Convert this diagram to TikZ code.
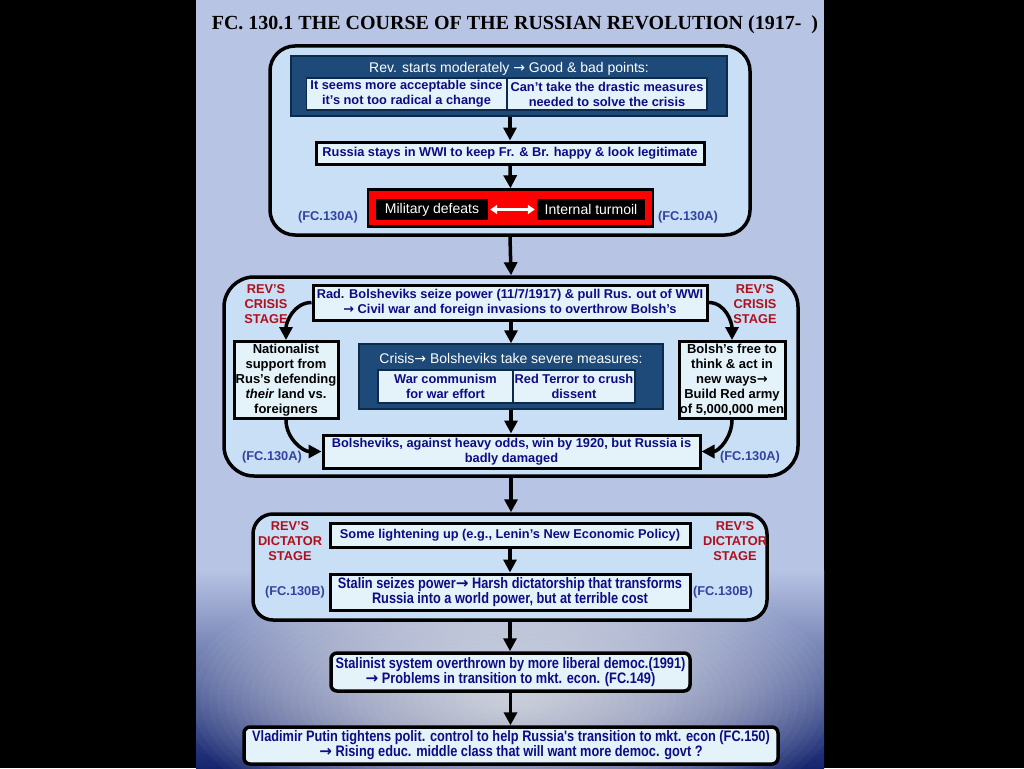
\documentclass[tikz,border=0pt]{standalone}
\usepackage{fontspec}
\setmainfont{Liberation Sans}
\newfontfamily\titlefont{Liberation Serif}
\newfontfamily\narrowfont[FakeStretch=0.84]{Liberation Sans}
\newfontfamily\arrowfont{DejaVu Sans}
\usetikzlibrary{arrows.meta}
\newcommand{\myarr}{{\arrowfont\char"2192}}
\definecolor{lav}{HTML}{B8C4E4}
\definecolor{navybg}{HTML}{14246E}
\definecolor{contc}{HTML}{C8DFF6}
\definecolor{lightc}{HTML}{E4F3F9}
\definecolor{darkc}{HTML}{1D4A78}
\definecolor{darkedge}{HTML}{0E2A4A}
\definecolor{navytxt}{HTML}{0C0C86}
\definecolor{fcc}{HTML}{3442A0}
\definecolor{redtxt}{HTML}{B0101C}
\tikzset{
  cont/.style={draw=black, line width=3.5pt, fill=contc, rounded corners=#1},
  cont/.default=25pt,
  lbox/.style={draw=black, line width=3pt, fill=lightc, inner sep=0pt, text=navytxt,
    font=\bfseries\fontsize{12.8}{15}\selectfont, align=center},
  nbox/.style={lbox, font=\narrowfont\bfseries\fontsize{15.2}{15}\selectfont},
  sidebox/.style={lbox, text=black, font=\bfseries\fontsize{13}{15}\selectfont},
  subbox/.style={draw=darkedge, line width=1.2pt, fill=lightc, inner sep=0pt, text=navytxt,
    font=\bfseries\fontsize{12.8}{15}\selectfont, align=center},
  dbox/.style={draw=darkedge, line width=1.5pt, fill=darkc},
  wtitle/.style={text=white, font=\fontsize{14}{16}\selectfont, inner sep=0pt},
  blk/.style={fill=black, text=white, font=\fontsize{14}{16}\selectfont, inner sep=0pt},
  fclab/.style={text=fcc, font=\bfseries\fontsize{12.8}{15}\selectfont, inner sep=0pt},
  stagelab/.style={text=redtxt, font=\bfseries\fontsize{12.8}{15}\selectfont, align=center, inner sep=0pt},
  arr/.style={line width=3.5pt, -{Triangle[length=13pt,width=13pt]}},
}
\begin{document}
\begin{tikzpicture}[x=1pt,y=-1pt]
\useasboundingbox (0,0) rectangle (1024,768);
% background
\fill[black] (0,0) rectangle (1024,768);
\fill[lav] (196,0) rectangle (824,768);
\shade[top color=lav, bottom color=navybg] (196,570) rectangle (824,768.5);
\begin{scope}
\clip (196,0) rectangle (824,768);
\foreach \i in {40,39,...,1}{
  \fill[white, opacity=0.035] (512,700) ellipse [x radius={8.2*\i}, y radius={3.6*\i}];
}
\end{scope}
% title
\node[inner sep=0pt, font=\titlefont\bfseries\fontsize{20}{22}\selectfont] (title) at (515,25) {FC. 130.1 THE COURSE OF THE RUSSIAN REVOLUTION (1917-\ \ )};

% ---- box 1
\node[cont, minimum width=480pt, minimum height=189pt] (c1) at (510,140.5) {};
\node[dbox, minimum width=436pt, minimum height=60pt] (d1) at (509,86) {};
\node[wtitle] (d1t) at (509,69) {Rev. starts moderately \myarr{} Good \& bad points:};
\node[subbox, minimum width=200pt, minimum height=32pt] (s1a) at (406.5,94) {It seems more acceptable since\\it's not too radical a change};
\node[subbox, minimum width=200pt, minimum height=32pt] (s1b) at (607,94) {Can't take the drastic measures\\needed to solve the crisis};
\node[lbox, minimum width=388pt, minimum height=22pt] (r1) at (510,153) {Russia stays in WWI to keep Fr. \& Br. happy \& look legitimate};
\node[draw=black, line width=2.5pt, fill=red, minimum width=285pt, minimum height=37pt] (red) at (510.5,208) {};
\node[blk, minimum width=112pt, minimum height=21pt] (md) at (432,209.5) {Military defeats};
\node[blk, minimum width=108pt, minimum height=21pt] (it) at (591,209.5) {Internal turmoil};
\draw[white, line width=2.5pt, {Triangle[length=7pt,width=9pt]}-{Triangle[length=7pt,width=9pt]}, shorten <=2pt, shorten >=2pt] (md.east) -- (it.west);
\node[fclab] (fa1) at (328,217) {(FC.130A)};
\node[fclab] (fa2) at (688,217) {(FC.130A)};
\draw[arr] (d1.south -| r1.north) -- (r1.north);
\draw[arr] (r1.south) -- (red.north);

% ---- box 2
\node[cont=30pt, minimum width=574pt, minimum height=199pt] (c2) at (511,376.5) {};
\draw[arr] (c1.south) -- (c2.north);
\node[lbox, minimum width=394pt, minimum height=35pt] (tb2) at (510,302.5) {Rad. Bolsheviks seize power (11/7/1917) \& pull Rus. out of WWI\\\myarr{} Civil war and foreign invasions to overthrow Bolsh's};
\node[stagelab] (sl1) at (266,304) {REV'S\\CRISIS\\STAGE};
\node[stagelab] (sl2) at (755,304) {REV'S\\CRISIS\\STAGE};
\node[sidebox, minimum width=104pt, minimum height=77pt] (lb) at (286,380) {Nationalist\\support from\\Rus's defending\\\textit{their} land vs.\\foreigners};
\node[sidebox, minimum width=106pt, minimum height=77pt] (rb) at (732,380) {Bolsh's free to\\think \& act in\\new ways\myarr\\Build Red army\\of 5,000,000 men};
\node[dbox, minimum width=304pt, minimum height=65pt] (d2) at (511,376.5) {};
\node[wtitle] (d2t) at (511,358) {Crisis\myarr{} Bolsheviks take severe measures:};
\node[subbox, minimum width=135pt, minimum height=33pt] (wc) at (445.5,386.5) {War communism\\for war effort};
\node[subbox, minimum width=122pt, minimum height=33pt] (rt) at (574,386.5) {Red Terror to crush\\dissent};
\node[lbox, minimum width=377pt, minimum height=33pt] (bb) at (511.5,451.5) {Bolsheviks, against heavy odds, win by 1920, but Russia is\\badly damaged};
\node[fclab] (fb1) at (272,457) {(FC.130A)};
\node[fclab] (fb2) at (750,457) {(FC.130A)};
\draw[arr] (tb2.south -| d2.north) -- (d2.north);
\draw[arr] (d2.south) -- (bb.north -| d2.south);
\draw[arr] (tb2.west) to[out=180, in=90] (lb.north);
\draw[arr] (tb2.east) to[out=0, in=90] (rb.north);
\draw[arr] (lb.south) to[out=-90, in=180] (bb.west);
\draw[arr] (rb.south) to[out=-90, in=0] (bb.east);

% ---- box 3
\node[cont=20pt, minimum width=514pt, minimum height=106pt] (c3) at (510,567) {};
\draw[arr] (c2.south) -- (c3.north -| c2.south);
\node[lbox, minimum width=360pt, minimum height=24pt] (lg) at (510,535) {Some lightening up (e.g., Lenin's New Economic Policy)};
\node[nbox, minimum width=360pt, minimum height=36pt] (st) at (510,592) {Stalin seizes power\myarr{} Harsh dictatorship that transforms\\Russia into a world power, but at terrible cost};
\draw[arr] (lg.south) -- (st.north);
\node[stagelab] (sl3) at (290,541) {REV'S\\DICTATOR\\STAGE};
\node[stagelab] (sl4) at (735,541) {REV'S\\DICTATOR\\STAGE};
\node[fclab] (fc1) at (295,592) {(FC.130B)};
\node[fclab] (fc2) at (723,592) {(FC.130B)};

% ---- box 4, 5
\node[nbox, rounded corners=6pt, line width=3.5pt, minimum width=359pt, minimum height=38pt] (s4) at (510.5,672) {Stalinist system overthrown by more liberal democ.(1991)\\\myarr{} Problems in transition to mkt. econ. (FC.149)};
\node[nbox, rounded corners=6pt, line width=3.5pt, minimum width=534pt, minimum height=37pt] (p5) at (511,745.5) {Vladimir Putin tightens polit. control to help Russia's transition to mkt. econ (FC.150)\\\myarr{} Rising educ. middle class that will want more democ. govt ?};
\draw[arr] (c3.south) -- (s4.north -| c3.south);
\draw[arr] (s4.south) -- (p5.north -| s4.south);
\end{tikzpicture}
\end{document}
